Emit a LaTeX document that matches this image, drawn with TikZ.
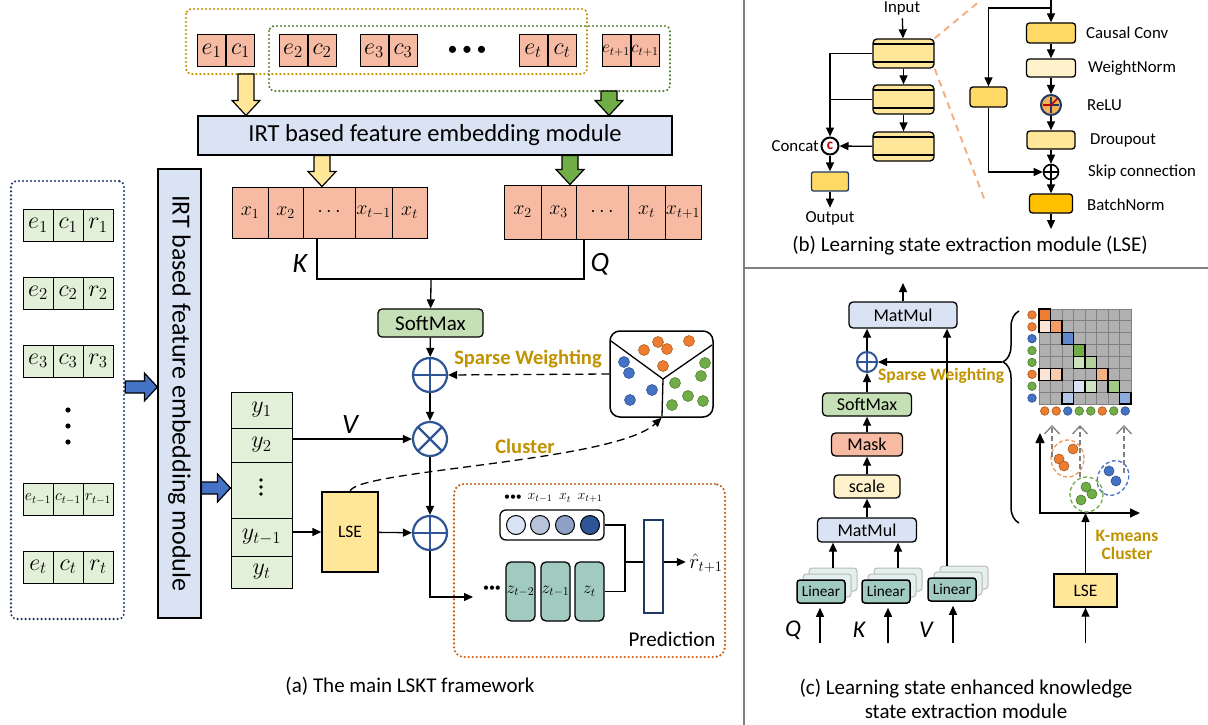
\RequirePackage{fix-cm}
\documentclass[tikz,border=0pt]{standalone}
\usepackage[no-math]{fontspec}
\setmainfont{Carlito}
\usetikzlibrary{arrows.meta,calc,positioning,decorations.pathreplacing}

\definecolor{tokred}{HTML}{F6BBA2}
\definecolor{tokgreen}{HTML}{E2F0D9}
\definecolor{irtblue}{HTML}{DAE3F3}
\definecolor{arryel}{HTML}{FFE699}
\definecolor{arrgreen}{HTML}{70AD47}
\definecolor{arrblue}{HTML}{4472C4}
\definecolor{smgreen}{HTML}{C5E0B4}
\definecolor{opblue}{HTML}{2F5597}
\definecolor{predorange}{HTML}{C55A11}
\definecolor{zteal}{HTML}{A1CBC1}
\definecolor{ghostteal}{HTML}{E3F0ED}
\definecolor{darknavy}{HTML}{203864}
\definecolor{goldtxt}{HTML}{C09200}
\definecolor{wingold}{HTML}{BF9000}
\definecolor{wingreen}{HTML}{548235}
\definecolor{dotorange}{HTML}{ED7D31}
\definecolor{dotblue}{HTML}{4472C4}
\definecolor{dotgreen}{HTML}{70AD47}
\definecolor{zoomorange}{HTML}{F4B183}
\definecolor{convyel}{HTML}{FFD966}
\definecolor{normcream}{HTML}{FFF2CC}
\definecolor{bnormyel}{HTML}{FFC000}
\definecolor{reluorange}{HTML}{F4B15A}
\definecolor{catred}{HTML}{C00000}
\definecolor{gridgray}{HTML}{B0B0B0}
\definecolor{sepgray}{HTML}{808080}

\newcommand\fz[1]{\fontsize{#1}{#1}\selectfont}

% block arrow pointing down at x=#1, from #2 to #3
\newcommand\fatdown[4]{%
  \draw[line width=1.2pt, fill=#4] let \p1=(#2), \p2=(#3) in
    ({#1pt-8pt},\y1) -- ({#1pt-8pt},\y2+15pt) -- ({#1pt-14pt},\y2+15pt) -- ({#1pt},\y2)
    -- ({#1pt+14pt},\y2+15pt) -- ({#1pt+8pt},\y2+15pt) -- ({#1pt+8pt},\y1) -- cycle;}
% block arrow pointing right at y=#1, from #2 to #3
\newcommand\fatright[4]{%
  \draw[line width=1.2pt, fill=#4] let \p1=(#2), \p2=(#3) in
    (\x1,{-#1pt+6pt}) -- (\x2-13pt,{-#1pt+6pt}) -- (\x2-13pt,{-#1pt+14pt}) -- (\x2,{-#1pt})
    -- (\x2-13pt,{-#1pt-14pt}) -- (\x2-13pt,{-#1pt-6pt}) -- (\x1,{-#1pt-6pt}) -- cycle;}

\tikzset{
  conn/.style={line width=1.3pt, -{Triangle[length=9pt,width=8pt]}},
  dashconn/.style={conn, dash pattern=on 8pt off 5pt},
  cell/.style={draw, line width=1pt, inner sep=0pt, font=\fz{24}},
  tok/.style={cell, fill=tokred, minimum width=28pt, minimum height=32pt},
  gcell/.style={cell, fill=tokgreen, minimum width=30pt, minimum height=32pt},
  irt/.style={draw, line width=1.2pt, fill=irtblue, inner sep=0pt},
  rbox/.style={draw, line width=1.2pt, rounded corners=4pt, inner sep=0pt},
  dotbox/.style={line width=2.4pt, dash pattern=on 0pt off 4pt, line cap=round, rounded corners=5pt},
  oplus/.style={circle, draw=opblue, line width=2.2pt, fill=white, minimum size=34pt, inner sep=0pt,
    path picture={\draw[opblue, line width=2.2pt]
      (path picture bounding box.north) -- (path picture bounding box.south)
      (path picture bounding box.west) -- (path picture bounding box.east);}},
  otimes/.style={oplus,
    path picture={\draw[opblue, line width=2.2pt]
      (path picture bounding box.north west) -- (path picture bounding box.south east)
      (path picture bounding box.south west) -- (path picture bounding box.north east);}},
  tcnblock/.style={draw, line width=1.3pt, rounded corners=4pt, fill=arryel, minimum width=61pt,
    minimum height=29pt, inner sep=0pt,
    path picture={\draw[line width=1.1pt]
      ([yshift=-5pt]path picture bounding box.north west) -- ([yshift=-5pt]path picture bounding box.north east)
      ([yshift=6pt]path picture bounding box.south west) -- ([yshift=6pt]path picture bounding box.south east);}},
  lbox/.style={draw, line width=1.3pt, rounded corners=3pt, inner sep=0pt},
  lsel/.style={font=\fz{16.8}, anchor=west, inner sep=0pt},
  cbox/.style={draw, line width=1.3pt, rounded corners=4pt, inner sep=0pt, font=\fz{18}},
  ghost/.style={draw=gray!55, line width=1pt, rounded corners=3pt, fill=ghostteal,
    minimum width=48pt, minimum height=23pt},
  linbox/.style={draw, line width=1.5pt, rounded corners=3pt, fill=zteal, minimum width=48pt,
    minimum height=23pt, inner sep=0pt, font=\fz{15.3}},
  graydash/.style={sepgray, line width=1.3pt, dash pattern=on 5pt off 3pt,
    -{Straight Barb[length=8pt,width=15pt]}},
  goldlab/.style={font=\bfseries\fz{20.5}, text=goldtxt},
}

\begin{document}
\begin{tikzpicture}[x=1pt,y=-1pt]
\useasboundingbox (0,0) rectangle (1208,725);

% ================= (a) main LSKT framework =================
% windows over the exercise/concept tokens
\draw[dotbox, draw=wingold] (186,9) rectangle (587,74);
\draw[dotbox, draw=wingreen] (269,26) rectangle (670,91);

\foreach \n/\x/\s in {1/226/1, 2/307.5/2, 3/388.5/3, t/547.5/t}{
  \node[tok, anchor=east] (e\n) at (\x,51) {$e_{\s}$};
  \node[tok, anchor=west] (c\n) at (\x,51) {$c_{\s}$};
}
\node[tok, anchor=east, font=\fz{17}] (eT) at (630.5,51) {$e_{t+1}$};
\node[tok, anchor=west, font=\fz{17}] (cT) at (630.5,51) {$c_{t+1}$};
\node[font=\fz{20}] (tdots) at (467,51) {\textbullet\ \textbullet\ \textbullet};

\node[irt, minimum width=474pt, minimum height=39pt, font=\fz{24.5}] (irth) at (435,135.5)
  {IRT based feature embedding module};

% embedded keys and queries
\foreach \i/\cx/\w/\lab in {1/250/36/x_1, 2/285.5/35/x_2, 3/329/52/\cdots, 4/373.5/37/x_{t-1}, 5/409.5/35/x_t}
  \node[cell, fill=tokred, minimum width=\w pt, minimum height=51pt, font=\fz{20}] (kx\i) at (\cx,212.5) {$\lab$};
\foreach \i/\cx/\w/\lab in {1/522.5/37/x_2, 2/558.5/35/x_3, 3/602/52/\cdots, 4/646.5/37/x_t, 5/683/36/x_{t+1}}
  \node[cell, fill=tokred, minimum width=\w pt, minimum height=54pt, font=\fz{20}] (qx\i) at (\cx,212) {$\lab$};

\fatdown{246}{246,74}{irth.north}{arryel}
\fatdown{609}{609,91}{irth.north}{arrgreen}
\fatdown{322}{irth.south}{kx4.north}{arryel}
\fatdown{570}{irth.south}{qx1.north}{arrgreen}

\coordinate (kq) at (431,279);
\draw[line width=1.3pt] ([xshift=-12pt]kx3.south) |- (kq) -| ([xshift=-18pt]qx3.south);
\node[font=\fz{28}\itshape] (klab) at (300,264) {K};
\node[font=\fz{28}\itshape] (qlab) at (600,264) {Q};

\node[rbox, fill=smgreen, minimum width=105pt, minimum height=28pt, font=\fz{21}] (soft) at (430.5,323) {SoftMax};
\draw[conn] (kq) -- (soft);

\node[oplus] (sw) at (430,375) {};
\node[otimes] (mul) at (430,439) {};
\node[oplus] (addb) at (430,533) {};
\draw[conn] (soft) -- (sw);
\draw[conn] (sw) -- (mul);
\draw[conn] (mul) -- (addb);

% clustered learning states
\node[draw, line width=1.5pt, rounded corners=10pt, minimum width=103pt, minimum height=86pt, inner sep=0pt] (clus) at (661.5,374) {};
\coordinate (cc) at (663,379);
\draw[line width=1.3pt] (611,341) -- (cc) -- (712,345) (cc) -- (662,416);
\foreach \x/\y/\c in {658/342/dotorange, 644/350/dotorange, 667/349/dotorange, 689/341/dotorange, 663/366/dotorange,
    624/362/dotblue, 629/373/dotblue, 652/390/dotblue, 630/400/dotblue,
    705/363/dotgreen, 701/376/dotgreen, 675/383/dotgreen, 688/396/dotgreen, 672/405/dotgreen, 703/401/dotgreen}
  \fill[\c, draw=\c!75!black, line width=.6pt] (\x,\y) circle (5.5pt);

\draw[dashconn] (clus.west) -- (sw.east);
\node[goldlab] (swlab) at (528,359) {Sparse Weighting};

% response embeddings
\foreach \i/\cy/\h/\lab in {1/410/36/y_1, 2/445/34/y_2, 4/537/38/y_{t-1}, 5/572/32/y_t}
  \node[cell, fill=tokgreen, minimum width=61pt, minimum height=\h pt] (yc\i) at (261.5,\cy) {$\lab$};
\node[cell, fill=tokgreen, minimum width=61pt, minimum height=56pt] (yc3) at (261.5,490) {};
\foreach \y in {480,487,494}
  \fill (261,\y) circle (1.8pt);

\draw[conn] (yc2.east |- mul) -- (mul);
\node[font=\fz{28}\itshape] (vlab) at (350,425) {V};

\node[draw, line width=1.3pt, fill=arryel, minimum width=56pt, minimum height=80pt, font=\fz{17.5}] (lsea) at (350,532) {LSE};
\draw[conn] (yc4.east |- lsea) -- (lsea);
\draw[conn] (lsea) -- (addb);
\draw[dashconn] (lsea.north) .. controls (355,470) and (615,462) .. (clus.south);
\node[goldlab] (cllab) at (525,446) {Cluster};

% prediction layer
\node[dotbox, draw=predorange, rounded corners=10pt, minimum width=271pt, minimum height=173pt] (pred) at (589.5,570.5) {};
\node[font=\fz{21}] (predlab) at (672,639) {Prediction};

\node[draw, line width=1.3pt, rounded corners=6pt, minimum width=104pt, minimum height=30pt] (hbox) at (552,525) {};
\foreach \i/\x/\c in {1/516/irtblue, 2/540/opblue!35!white, 3/565/opblue!55!white, 4/590/opblue}
  \node[circle, draw, line width=1pt, fill=\c, minimum size=19pt, inner sep=0pt] (h\i) at (\x,525) {};
\node[font=\fz{12}] (hdots) at (513,498) {\textbullet\textbullet\textbullet};
\node[font=\fz{14}] (hl2) at (540,498) {$x_{t-1}$};
\node[font=\fz{14}] (hl3) at (565,498) {$x_{t}$};
\node[font=\fz{14}] (hl4) at (590,498) {$x_{t+1}$};

\foreach \i/\x/\lab in {1/520.5/z_{t-2}, 2/555.5/z_{t-1}, 3/589.5/z_t}
  \node[draw, line width=1.3pt, rounded corners=5pt, fill=zteal, minimum width=29pt, minimum height=59pt,
    inner sep=0pt, font=\fz{17}] (z\i) at (\x,591.5) {$\lab$};
\node[font=\fz{12}] (zdots) at (492,589) {\textbullet\textbullet\textbullet};

\coordinate (pin) at (473,597);
\draw[conn] (addb) |- (pin);

\coordinate (jn) at (625,562);
\draw[line width=1.3pt] (hbox.east) -| (jn) (z3.east) -| (jn);
\node[draw=darknavy, line width=1.5pt, fill=white, minimum width=19pt, minimum height=93pt, inner sep=0pt] (bar) at (653.5,566.5) {};
\draw[line width=1.3pt] (jn) -- (jn -| bar.west);
\node[font=\fz{21}] (rhat) at (706,563) {$\hat{r}_{t+1}$};
\draw[conn] (bar.east |- jn) -- (rhat.west |- jn);

% interaction sequence
\node[dotbox, draw=darknavy, minimum width=113pt, minimum height=438pt] (lcol) at (67.5,400) {};
\foreach \r/\cy/\s in {1/225.5/1, 2/293/2, 3/361/3, 5/567/t}{
  \node[gcell] (le\r) at (38,\cy) {$e_{\s}$};
  \node[gcell] (lc\r) at (68,\cy) {$c_{\s}$};
  \node[gcell] (lr\r) at (98,\cy) {$r_{\s}$};
}
\node[gcell, font=\fz{16}] (le4) at (38,499) {$e_{t-1}$};
\node[gcell, font=\fz{16}] (lc4) at (68,499) {$c_{t-1}$};
\node[gcell, font=\fz{16}] (lr4) at (98,499) {$r_{t-1}$};
\foreach \y in {410,426,442}
  \fill (68,\y) circle (2.6pt);

\node[irt, rotate=-90, minimum width=449pt, minimum height=43pt, font=\fz{26}] (irtv) at (179.5,393.5)
  {IRT based feature embedding module};
\fatright{387}{lcol.east}{irtv.south}{arrblue}
\fatright{488}{irtv.north}{yc3.west}{arrblue}

\node[font=\fz{21}] (capa) at (410,686) {(a) The main LSKT framework};

% ================= (b) LSE module =================
\node[font=\fz{16.8}] (inp) at (902,8) {Input};
\node[tcnblock] (blk1) at (903.5,53.5) {};
\node[tcnblock] (blk2) at (903.5,99.5) {};
\node[tcnblock] (blk3) at (903.5,146.5) {};
\draw[conn] (inp) -- (blk1);
\draw[conn] (blk1) -- (blk2);
\draw[conn] (blk2) -- (blk3);

\node[circle, draw, line width=2pt, fill=white, minimum size=17pt, inner sep=0pt, font=\bfseries\fz{15}, text=catred] (cat) at (830,146) {c};
\node[lsel, anchor=east] (catlab) at (819,146) {Concat};
\draw[conn] (blk1.west) -| (cat.north);
\draw[line width=1.3pt] (blk2.west) -- (blk2.west -| cat);
\draw[conn] (blk3) -- (cat);
\node[draw=darknavy, line width=1.3pt, fill=convyel, rounded corners=2pt, minimum width=37pt, minimum height=19pt] (outb) at (830,181.5) {};
\draw[conn] (cat) -- (outb);
\node[font=\fz{16.8}] (outl) at (830,218) {Output};
\draw[conn] (outb) -- (outl);

\draw[zoomorange, line width=2pt, dash pattern=on 7pt off 5pt] (blk1.north east) -- (981,0);
\draw[zoomorange, line width=2pt, dash pattern=on 7pt off 5pt] (blk1.south east) -- (985,201);

% one residual block
\node[lbox, fill=convyel, minimum width=49pt, minimum height=20pt] (cconv) at (1051,33) {};
\node[lbox, fill=normcream, minimum width=49pt, minimum height=18pt] (wnorm) at (1051,68) {};
\node[circle, draw=darknavy, line width=2pt, fill=reluorange, minimum size=20pt, inner sep=0pt,
  path picture={
    \draw[line width=1.6pt] ([yshift=8pt]path picture bounding box.center) -- ([yshift=-8pt]path picture bounding box.center)
      ([xshift=-8pt]path picture bounding box.center) -- ([xshift=8pt]path picture bounding box.center);
    \draw[catred, line width=1.6pt] ([xshift=-8pt]path picture bounding box.center) -- (path picture bounding box.center)
      -- ([xshift=7pt,yshift=7pt]path picture bounding box.center);}] (relu) at (1051,105) {};
\node[lbox, fill=arryel, minimum width=48pt, minimum height=18pt] (drop) at (1051,140) {};
\node[circle, draw, line width=1.6pt, fill=white, minimum size=15pt, inner sep=0pt,
  path picture={\draw[line width=1.4pt]
    (path picture bounding box.north) -- (path picture bounding box.south)
    (path picture bounding box.west) -- (path picture bounding box.east);}] (skip) at (1051,172) {};
\node[lbox, fill=bnormyel, minimum width=43pt, minimum height=19pt] (bn) at (1051,203.5) {};
\node[lbox, fill=convyel, minimum width=37pt, minimum height=20pt] (side) at (988.5,97) {};

\coordinate (tin) at (1051,0);
\coordinate (tsplit) at (1051,8);
\coordinate (bout) at (1051,229);
\draw[conn] (tin) -- (cconv);
\draw[conn] (tsplit) -| (side);
\draw[conn] (cconv) -- (wnorm);
\draw[conn] (wnorm) -- (relu);
\draw[conn] (relu) -- (drop);
\draw[conn] (drop) -- (skip);
\draw[conn] (skip) -- (bn);
\draw[conn] (bn) -- (bout);
\draw[conn] (side) |- (skip);

\node[lsel] (lcc) at (1086,33) {Causal Conv};
\node[lsel] (lwn) at (1088,68) {WeightNorm};
\node[lsel] (lrl) at (1087,105) {ReLU};
\node[lsel] (ldr) at (1090,140) {Droupout};
\node[lsel] (lsk) at (1088,172) {Skip connection};
\node[lsel] (lbn) at (1087,205) {BatchNorm};

\node[font=\fz{21}] (capb) at (970,246) {(b) Learning state extraction module (LSE)};

% ================= (c) enhanced attention =================
\node[cbox, fill=irtblue, minimum width=108pt, minimum height=26pt] (mm2) at (903,315) {MatMul};
\coordinate (mmout) at (903,283);
\draw[conn] (mm2) -- (mmout);
\node[oplus, minimum size=20pt, line width=2pt] (pl) at (867,362) {};
\draw[conn] (pl) -- (pl |- mm2.south);
\node[cbox, fill=smgreen, minimum width=89pt, minimum height=23pt] (soft2) at (867,404.5) {SoftMax};
\node[cbox, fill=tokred, minimum width=71pt, minimum height=23pt] (mask) at (867,444.5) {Mask};
\node[cbox, fill=normcream, minimum width=66pt, minimum height=23pt] (scl) at (867,486.5) {scale};
\node[cbox, fill=irtblue, minimum width=99pt, minimum height=24pt] (mm1) at (867,530) {MatMul};
\draw[conn] (soft2) -- (pl);
\draw[conn] (mask) -- (soft2);
\draw[conn] (scl) -- (mask);
\draw[conn] (mm1) -- (scl);

\foreach \nm/\x/\y in {Q/821/591.5, K/886/591.5, V/952/589.5}{
  \node[ghost] (ghost2\nm) at (\x+12,\y-12) {};
  \node[ghost] (ghost1\nm) at (\x+6,\y-6) {};
  \node[linbox] (lin\nm) at (\x,\y) {Linear};
}
\draw[conn] (ghost2Q.north) -- (ghost2Q.north |- mm1.south);
\draw[conn] (ghost2K.north) -- (ghost2K.north |- mm1.south);
\draw[conn] ([xshift=-17pt]ghost2V.north) -- ([xshift=-17pt]ghost2V.north |- mm2.south);

\foreach \nm/\x/\lx in {Q/820/793, K/888/859, V/953/926}{
  \coordinate (in\nm) at (\x,643);
  \draw[conn, shorten >=4pt] (in\nm) -- (in\nm |- lin\nm.south);
  \node[font=\fz{24}\itshape] (lab\nm) at (\lx,630) {\nm};
}

\draw[decorate, decoration={brace, amplitude=16pt, aspect=0.76}, line width=1.5pt] (1019,523) -- (1019,311);
\coordinate (btip) at (1002,362);
\draw[conn] (btip) -- (pl);
\node[goldlab, font=\bfseries\fz{17.5}, anchor=west, inner sep=0pt] (sw2lab) at (878,376) {Sparse Weighting};

% sparse attention mask
\fill[gridgray] (1039,309) rectangle (1131,404);
\foreach \i in {0,...,8}{
  \draw[sepgray, line width=1pt] (1039+\i*11.5,309) -- (1039+\i*11.5,404);
  \draw[sepgray, line width=1pt] (1039,309+\i*11.875) -- (1131,309+\i*11.875);
}
\foreach \r/\c/\col in {1/1/dotorange, 2/1/dotorange!20!white, 2/2/dotorange!75!white, 3/3/dotblue!85!white,
    4/4/dotgreen, 5/4/dotgreen!35!white, 5/5/dotgreen!55!white,
    6/1/dotorange!20!white, 6/2/dotorange!40!white, 6/6/dotorange!60!white,
    7/4/dotblue!20!white, 7/5/dotgreen!35!white, 7/7/dotgreen!65!white,
    8/3/dotblue!40!white, 8/8/dotblue!60!white}
  \draw[line width=1.2pt, fill=\col] (1039+\c*11.5-11.5,309+\r*11.875-11.875) rectangle ++(11.5,11.875);
\foreach \k/\col in {1/dotorange, 2/dotorange, 3/dotblue, 4/dotgreen, 5/dotgreen, 6/dotorange, 7/dotgreen, 8/dotblue}{
  \fill[\col, draw=\col!70!black, line width=.6pt] (1032,309+\k*11.875-5.94) circle (4.3pt);
  \fill[\col, draw=\col!70!black, line width=.6pt] (1039+\k*11.5-5.75,411) circle (4.3pt);
}

% k-means clusters of learning states
\coordinate (ax0) at (1040,513);
\coordinate (axy) at (1040,433);
\coordinate (axx) at (1140,513);
\draw[line width=1.6pt, {Triangle[length=10pt,width=9pt]}-{Triangle[length=10pt,width=9pt]}] (axy) |- (axx);

\draw[dotorange!80!white, line width=1.3pt, dash pattern=on 4pt off 2.5pt] (1067.5,458.5) ellipse [x radius=16.5pt, y radius=18.5pt];
\draw[dotgreen, line width=1.3pt, dash pattern=on 4pt off 2.5pt] (1086.5,494.5) ellipse [x radius=16.5pt, y radius=17.5pt];
\draw[dotblue, line width=1.3pt, dash pattern=on 4pt off 2.5pt, rotate around={-30:(1113,478)}] (1113,478) ellipse [x radius=15pt, y radius=18pt];
\foreach \x/\y/\c in {1073/449/dotorange, 1059/459/dotorange, 1064/466/dotorange,
    1086/487/dotgreen, 1092/494/dotgreen, 1081/500/dotgreen,
    1109/471/dotblue, 1116/481/dotblue}
  \fill[\c, draw=\c!70!black, line width=.6pt] (\x,\y) circle (5pt);

\coordinate (ga1) at (1052,457); \coordinate (gt1) at (1052,425);
\coordinate (ga2) at (1080,477); \coordinate (gt2) at (1080,425);
\coordinate (ga3) at (1124,473); \coordinate (gt3) at (1124,425);
\draw[graydash] (ga1) -- (gt1);
\draw[graydash] (ga2) -- (gt2);
\draw[graydash] (ga3) -- (gt3);

\node[draw, line width=1.3pt, fill=arryel, minimum width=63pt, minimum height=33pt, font=\fz{17.5}] (lsec) at (1085.5,590.5) {LSE};
\draw[conn] (lsec) -- (lsec |- ax0);
\coordinate (lsein) at (1085.5,643);
\draw[conn] (lsein) -- (lsec);
\node[goldlab, font=\bfseries\fz{17.5}, align=center] (kmlab) at (1127,545) {K-means\\Cluster};

\node[font={\fontsize{21}{24}\selectfont}, align=center] (capc) at (966,699)
  {(c) Learning state enhanced knowledge\\state extraction module};

% panel separators
\draw[sepgray, line width=2pt] (744,0) -- (744,725);
\draw[sepgray, line width=2pt] (744,268) -- (1208,268);
\end{tikzpicture}
\end{document}
